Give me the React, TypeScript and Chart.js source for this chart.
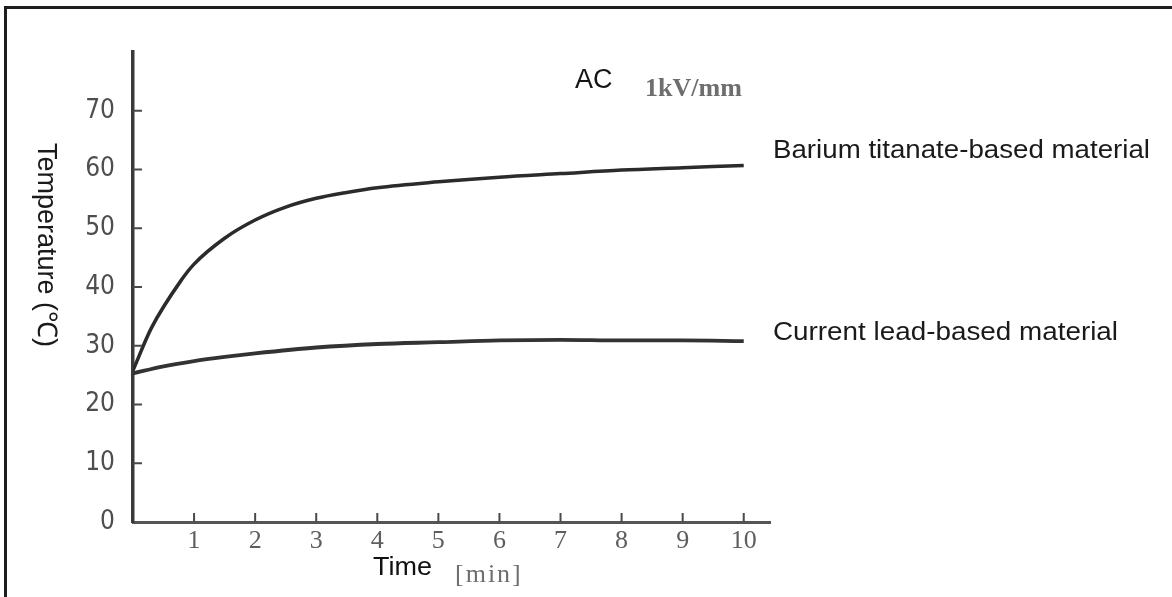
import React, { useEffect, useRef } from "react";
import { Chart, registerables } from "chart.js";

Chart.register(...registerables);

const bariumTime = [0, 0.3, 0.8, 1, 1.5, 2, 2.5, 3, 3.5, 4, 5, 6, 7, 8, 9, 10];
const bariumTemp = [25.8, 33.0, 41.3, 43.9, 48.3, 51.4, 53.6, 55.1, 56.1, 56.9, 57.9, 58.7, 59.3, 59.9, 60.3, 60.7];

const leadTime = [0, 0.5, 1, 1.5, 2, 3, 4, 5, 6, 7, 8, 9, 10];
const leadTemp = [25.3, 26.5, 27.4, 28.1, 28.7, 29.7, 30.3, 30.6, 30.9, 31.0, 30.9, 30.9, 30.8];

const xTickValues = [1, 2, 3, 4, 5, 6, 7, 8, 9, 10];
const yTickValues = [0, 10, 20, 30, 40, 50, 60, 70];

const seriesLabels = ["Barium titanate-based material", "Current lead-based material"];
const yTitle = "Temperature (℃)";
const xTitle = "Time";
const xUnit = "[min]";
const noteAC = "AC";
const noteField = "1kV/mm";

function drawScaledText(
  ctx: CanvasRenderingContext2D,
  text: string,
  x: number,
  y: number,
  font: string,
  color: string,
  targetWidth?: number
) {
  ctx.save();
  ctx.font = font;
  ctx.fillStyle = color;
  ctx.textAlign = "left";
  ctx.textBaseline = "alphabetic";
  let sx = 1;
  if (targetWidth) {
    const w = ctx.measureText(text).width;
    sx = targetWidth / w;
  }
  ctx.translate(x, y);
  ctx.scale(sx, 1);
  ctx.fillText(text, 0, 0);
  ctx.restore();
}

const decorPlugin = {
  id: "decor",
  afterDraw(chart: any) {
    const ctx: CanvasRenderingContext2D = chart.ctx;
    const xs = chart.scales.x;
    const ys = chart.scales.y;
    const area = chart.chartArea;

    // frame (top + left)
    ctx.save();
    ctx.fillStyle = "#1e1e1e";
    ctx.fillRect(4, 6, 3, chart.height - 6);
    ctx.fillRect(4, 6, chart.width - 4, 3);
    ctx.restore();

    // inward tick marks
    ctx.save();
    ctx.strokeStyle = "#4a4a4a";
    ctx.lineWidth = 2;
    ctx.beginPath();
    yTickValues.forEach((v) => {
      if (v === 0) return;
      const py = ys.getPixelForValue(v);
      ctx.moveTo(area.left, py);
      ctx.lineTo(area.left + 9, py);
    });
    xTickValues.forEach((v) => {
      const px = xs.getPixelForValue(v);
      ctx.moveTo(px, area.bottom);
      ctx.lineTo(px, area.bottom - 9);
    });
    ctx.stroke();
    ctx.restore();

    // annotations
    drawScaledText(ctx, noteAC, 575, 88, "27px 'Liberation Sans'", "#151515");
    drawScaledText(ctx, noteField, 645, 96, "bold 26px 'Liberation Serif'", "#6e6e6e", 97);
    drawScaledText(ctx, seriesLabels[0], 773, 158, "26px 'Liberation Sans'", "#1a1a1a", 377);
    drawScaledText(ctx, seriesLabels[1], 773, 340, "26px 'Liberation Sans'", "#1a1a1a", 345);
    drawScaledText(ctx, xTitle, 373, 575, "26px 'Liberation Sans'", "#111", 59);

    ctx.save();
    ctx.font = "26px 'Liberation Serif'";
    ctx.fillStyle = "#6e6e6e";
    (ctx as any).letterSpacing = "2px";
    ctx.textBaseline = "alphabetic";
    ctx.fillText(xUnit, 455, 582);
    ctx.restore();

    // y title rotated clockwise
    ctx.save();
    ctx.font = "27px 'Liberation Sans'";
    ctx.fillStyle = "#1a1a1a";
    ctx.textAlign = "left";
    ctx.textBaseline = "middle";
    ctx.translate(45, 143);
    ctx.rotate(Math.PI / 2);
    ctx.fillText(yTitle, 0, 0);
    ctx.restore();
  },
};

export default function App() {
  const ref = useRef<HTMLCanvasElement | null>(null);

  useEffect(() => {
    if (!ref.current) return;
    const chart = new Chart(ref.current, {
      type: "scatter",
      data: {
        datasets: [
          {
            label: seriesLabels[0],
            data: bariumTime.map((t, i) => ({ x: t, y: bariumTemp[i] })),
            showLine: true,
            borderColor: "#2b2b2b",
            borderWidth: 3.5,
            pointRadius: 0,
            cubicInterpolationMode: "monotone",
          },
          {
            label: seriesLabels[1],
            data: leadTime.map((t, i) => ({ x: t, y: leadTemp[i] })),
            showLine: true,
            borderColor: "#333333",
            borderWidth: 3.8,
            pointRadius: 0,
            cubicInterpolationMode: "monotone",
          },
        ],
      },
      options: {
        animation: false,
        responsive: false,
        layout: { padding: { top: 52, right: 402, left: 0, bottom: 0 } },
        plugins: {
          legend: { display: false },
          tooltip: { enabled: false },
        },
        scales: {
          x: {
            type: "linear",
            min: 0,
            max: 10.43,
            afterBuildTicks: (scale: any) => {
              scale.ticks = xTickValues.map((v) => ({ value: v }));
            },
            afterFit: (scale: any) => {
              scale.height = 75;
            },
            grid: { display: false },
            border: { display: true, color: "#555", width: 3 },
            ticks: {
              padding: -4,
              color: "#5e5e5e",
              font: { family: "'Liberation Serif'", size: 26 },
              maxRotation: 0,
              autoSkip: false,
            },
          },
          y: {
            type: "linear",
            min: 0,
            max: 80,
            afterBuildTicks: (scale: any) => {
              scale.ticks = yTickValues.map((v) => ({ value: v }));
            },
            afterFit: (scale: any) => {
              scale.width = 133;
            },
            grid: { display: false },
            border: { display: true, color: "#3a3a3a", width: 3.5 },
            ticks: {
              padding: 10,
              color: "#4e4e4e",
              font: {
                family: "'Liberation Sans Narrow', 'DejaVu Sans Condensed', 'Liberation Sans'",
                size: 26,
              },
              autoSkip: false,
            },
          },
        },
      },
      plugins: [decorPlugin],
    });
    return () => chart.destroy();
  }, []);

  return (
    <div style={{ position: "absolute", left: 0, top: 0, width: 1172, height: 597, background: "#fff" }}>
      <canvas ref={ref} width={1172} height={597} style={{ display: "block" }} />
    </div>
  );
}
